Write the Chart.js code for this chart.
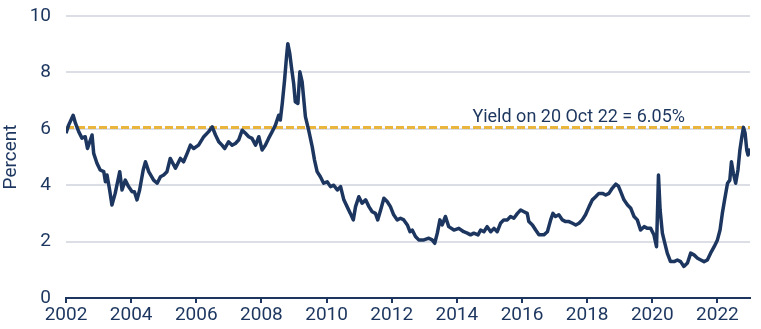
<!DOCTYPE html>
<html>
<head>
<meta charset="utf-8">
<script src="https://cdn.jsdelivr.net/npm/chart.js@4.4.1/dist/chart.umd.min.js"></script>
<style>
  html, body { margin: 0; padding: 0; background: #ffffff; }
  #grafico { display: block; }
</style>
</head>
<body>
<canvas id="grafico" width="761" height="329"></canvas>
<script>
// fechas en años decimales y rendimiento (%)
const fechas = [
  2002.00, 2002.08, 2002.22, 2002.29, 2002.39, 2002.49, 2002.59, 2002.66, 2002.80, 2002.85,
  2002.95, 2003.05, 2003.16, 2003.21, 2003.26, 2003.34, 2003.41, 2003.51, 2003.65, 2003.72,
  2003.82, 2003.92, 2004.03, 2004.10, 2004.18, 2004.26, 2004.37, 2004.44, 2004.54, 2004.69,
  2004.80, 2004.90, 2005.00, 2005.10, 2005.20, 2005.36, 2005.51, 2005.61, 2005.72, 2005.82,
  2005.92, 2006.07, 2006.23, 2006.38, 2006.49, 2006.59, 2006.69, 2006.79, 2006.87, 2006.99,
  2007.10, 2007.20, 2007.30, 2007.41, 2007.51, 2007.61, 2007.71, 2007.82, 2007.92, 2008.02,
  2008.12, 2008.22, 2008.33, 2008.43, 2008.53, 2008.58, 2008.64, 2008.71, 2008.77, 2008.81,
  2008.87, 2008.92, 2008.99, 2009.04, 2009.12, 2009.18, 2009.25, 2009.35, 2009.45, 2009.56,
  2009.63, 2009.71, 2009.81, 2009.91, 2010.02, 2010.12, 2010.22, 2010.33, 2010.43, 2010.53,
  2010.63, 2010.73, 2010.82, 2010.89, 2010.99, 2011.09, 2011.20, 2011.30, 2011.40, 2011.50,
  2011.57, 2011.66, 2011.76, 2011.86, 2011.96, 2012.06, 2012.17, 2012.27, 2012.37, 2012.48,
  2012.56, 2012.63, 2012.73, 2012.83, 2012.99, 2013.14, 2013.24, 2013.32, 2013.40, 2013.48,
  2013.55, 2013.65, 2013.75, 2013.91, 2014.06, 2014.21, 2014.32, 2014.42, 2014.52, 2014.65,
  2014.73, 2014.83, 2014.93, 2015.04, 2015.14, 2015.24, 2015.34, 2015.44, 2015.55, 2015.65,
  2015.75, 2015.86, 2015.96, 2016.06, 2016.16, 2016.21, 2016.32, 2016.42, 2016.52, 2016.67,
  2016.78, 2016.88, 2016.95, 2017.03, 2017.13, 2017.24, 2017.34, 2017.44, 2017.55, 2017.65,
  2017.75, 2017.85, 2017.95, 2018.06, 2018.16, 2018.26, 2018.36, 2018.47, 2018.57, 2018.67,
  2018.77, 2018.88, 2018.96, 2019.03, 2019.13, 2019.24, 2019.34, 2019.44, 2019.54, 2019.64,
  2019.75, 2019.85, 2019.95, 2020.05, 2020.13, 2020.17, 2020.19, 2020.24, 2020.31, 2020.36,
  2020.46, 2020.56, 2020.67, 2020.77, 2020.87, 2020.97, 2021.08, 2021.18, 2021.28, 2021.39,
  2021.49, 2021.59, 2021.69, 2021.79, 2021.90, 2022.00, 2022.08, 2022.15, 2022.22, 2022.31,
  2022.38, 2022.43, 2022.49, 2022.56, 2022.63, 2022.69, 2022.75, 2022.80, 2022.85, 2022.90,
  2022.94, 2022.99
];
const rendimiento = [
  5.84, 6.13, 6.48, 6.20, 5.90, 5.67, 5.72, 5.30, 5.78, 5.13,
  4.78, 4.54, 4.48, 4.12, 4.36, 3.83, 3.30, 3.71, 4.48, 3.83,
  4.18, 3.95, 3.77, 3.77, 3.48, 3.83, 4.54, 4.83, 4.48, 4.18,
  4.07, 4.30, 4.36, 4.48, 4.95, 4.60, 4.95, 4.83, 5.13, 5.42,
  5.30, 5.42, 5.72, 5.90, 6.07, 5.78, 5.54, 5.42, 5.30, 5.54,
  5.42, 5.48, 5.60, 5.95, 5.84, 5.72, 5.66, 5.42, 5.72, 5.25,
  5.42, 5.66, 5.90, 6.13, 6.48, 6.31, 6.90, 7.72, 8.55, 9.02,
  8.67, 8.20, 7.61, 6.96, 6.90, 8.02, 7.66, 6.43, 5.95, 5.36,
  4.89, 4.48, 4.30, 4.07, 4.12, 3.95, 4.00, 3.83, 3.95, 3.48,
  3.24, 3.00, 2.77, 3.24, 3.59, 3.36, 3.48, 3.24, 3.06, 3.00,
  2.77, 3.12, 3.54, 3.42, 3.24, 2.95, 2.77, 2.83, 2.77, 2.59,
  2.35, 2.41, 2.18, 2.06, 2.06, 2.12, 2.06, 1.94, 2.30, 2.77,
  2.59, 2.89, 2.53, 2.41, 2.47, 2.35, 2.30, 2.24, 2.30, 2.24,
  2.41, 2.35, 2.53, 2.35, 2.47, 2.35, 2.65, 2.77, 2.77, 2.89,
  2.83, 3.00, 3.12, 3.06, 3.00, 2.71, 2.59, 2.41, 2.24, 2.24,
  2.35, 2.77, 3.00, 2.89, 2.95, 2.77, 2.71, 2.71, 2.65, 2.59,
  2.65, 2.77, 2.95, 3.24, 3.48, 3.59, 3.71, 3.71, 3.65, 3.71,
  3.89, 4.04, 3.97, 3.77, 3.48, 3.30, 3.18, 2.89, 2.77, 2.41,
  2.53, 2.47, 2.47, 2.24, 1.82, 3.48, 4.36, 3.12, 2.30, 2.06,
  1.59, 1.29, 1.29, 1.35, 1.29, 1.12, 1.24, 1.59, 1.53, 1.41,
  1.35, 1.29, 1.35, 1.59, 1.82, 2.06, 2.41, 3.00, 3.48, 4.07,
  4.18, 4.83, 4.42, 4.07, 4.54, 5.25, 5.72, 6.05, 5.84, 5.25,
  5.07, 5.30
];
const rendimientoActual = 6.05;
const textoActual = 'Yield on 20 Oct 22 = 6.05%';
const ticksY = [0, 2, 4, 6, 8, 10];
const ticksX = [2002, 2004, 2006, 2008, 2010, 2012, 2014, 2016, 2018, 2020, 2022];

const azul = '#1c365f';
const dorado = '#e9b53c';
const fuente = "Roboto, 'Liberation Sans', sans-serif";

// etiqueta sobre la linea punteada
const etiquetaLinea = {
    id: 'etiquetaLinea',
    afterDatasetsDraw(chart) {
        const ctx = chart.ctx;
        const x = chart.scales.x.getPixelForValue(2017.74);
        const y = chart.scales.y.getPixelForValue(rendimientoActual);
        ctx.save();
        ctx.font = '18px ' + fuente;
        ctx.fillStyle = azul;
        ctx.textAlign = 'center';
        ctx.textBaseline = 'alphabetic';
        ctx.fillText(textoActual, x, y - 5);
        ctx.restore();
    }
};

const grafico = new Chart(document.getElementById('grafico').getContext('2d'), {
    type: 'line',
    data: {
        datasets: [
            {
                data: fechas.map((f, i) => ({ x: f, y: rendimiento[i] })),
                borderColor: azul,
                borderWidth: 3.5,
                pointRadius: 0,
                tension: 0,
                borderJoinStyle: 'round',
                order: 1
            },
            {
                data: [{ x: 2002, y: rendimientoActual }, { x: 2023, y: rendimientoActual }],
                borderColor: dorado,
                borderWidth: 3,
                borderDash: [8, 3],
                pointRadius: 0,
                order: 2
            }
        ]
    },
    options: {
        responsive: false,
        animation: false,
        plugins: {
            legend: { display: false },
            tooltip: { enabled: false }
        },
        layout: {
            padding: { left: 0, right: 11, top: 16, bottom: 0 }
        },
        scales: {
            x: {
                type: 'linear',
                min: 2002,
                max: 2023,
                afterBuildTicks: (axis) => { axis.ticks = ticksX.map(v => ({ value: v })); },
                afterFit: (scale) => { scale.height = 31; scale.paddingLeft = 0; scale.paddingRight = 0; },
                grid: {
                    drawOnChartArea: false,
                    drawTicks: true,
                    tickLength: 5,
                    color: azul,
                    lineWidth: 2
                },
                border: { display: true, color: azul, width: 2 },
                ticks: {
                    color: azul,
                    font: { family: fuente, size: 19 },
                    padding: 1,
                    maxRotation: 0,
                    callback: (v) => String(v)
                }
            },
            y: {
                min: 0,
                max: 10,
                afterBuildTicks: (axis) => { axis.ticks = ticksY.map(v => ({ value: v })); },
                afterFit: (scale) => { scale.width = 66; scale.paddingTop = 0; scale.paddingBottom = 0; },
                grid: {
                    color: '#dcdee5',
                    lineWidth: 2,
                    drawTicks: false
                },
                border: { display: false },
                ticks: {
                    color: azul,
                    font: { family: fuente, size: 19 },
                    padding: 15
                },
                title: {
                    display: true,
                    text: 'Percent',
                    color: azul,
                    font: { family: fuente, size: 19 },
                    padding: { top: 0, bottom: 4 }
                }
            }
        }
    },
    plugins: [etiquetaLinea]
});
</script>
</body>
</html>
